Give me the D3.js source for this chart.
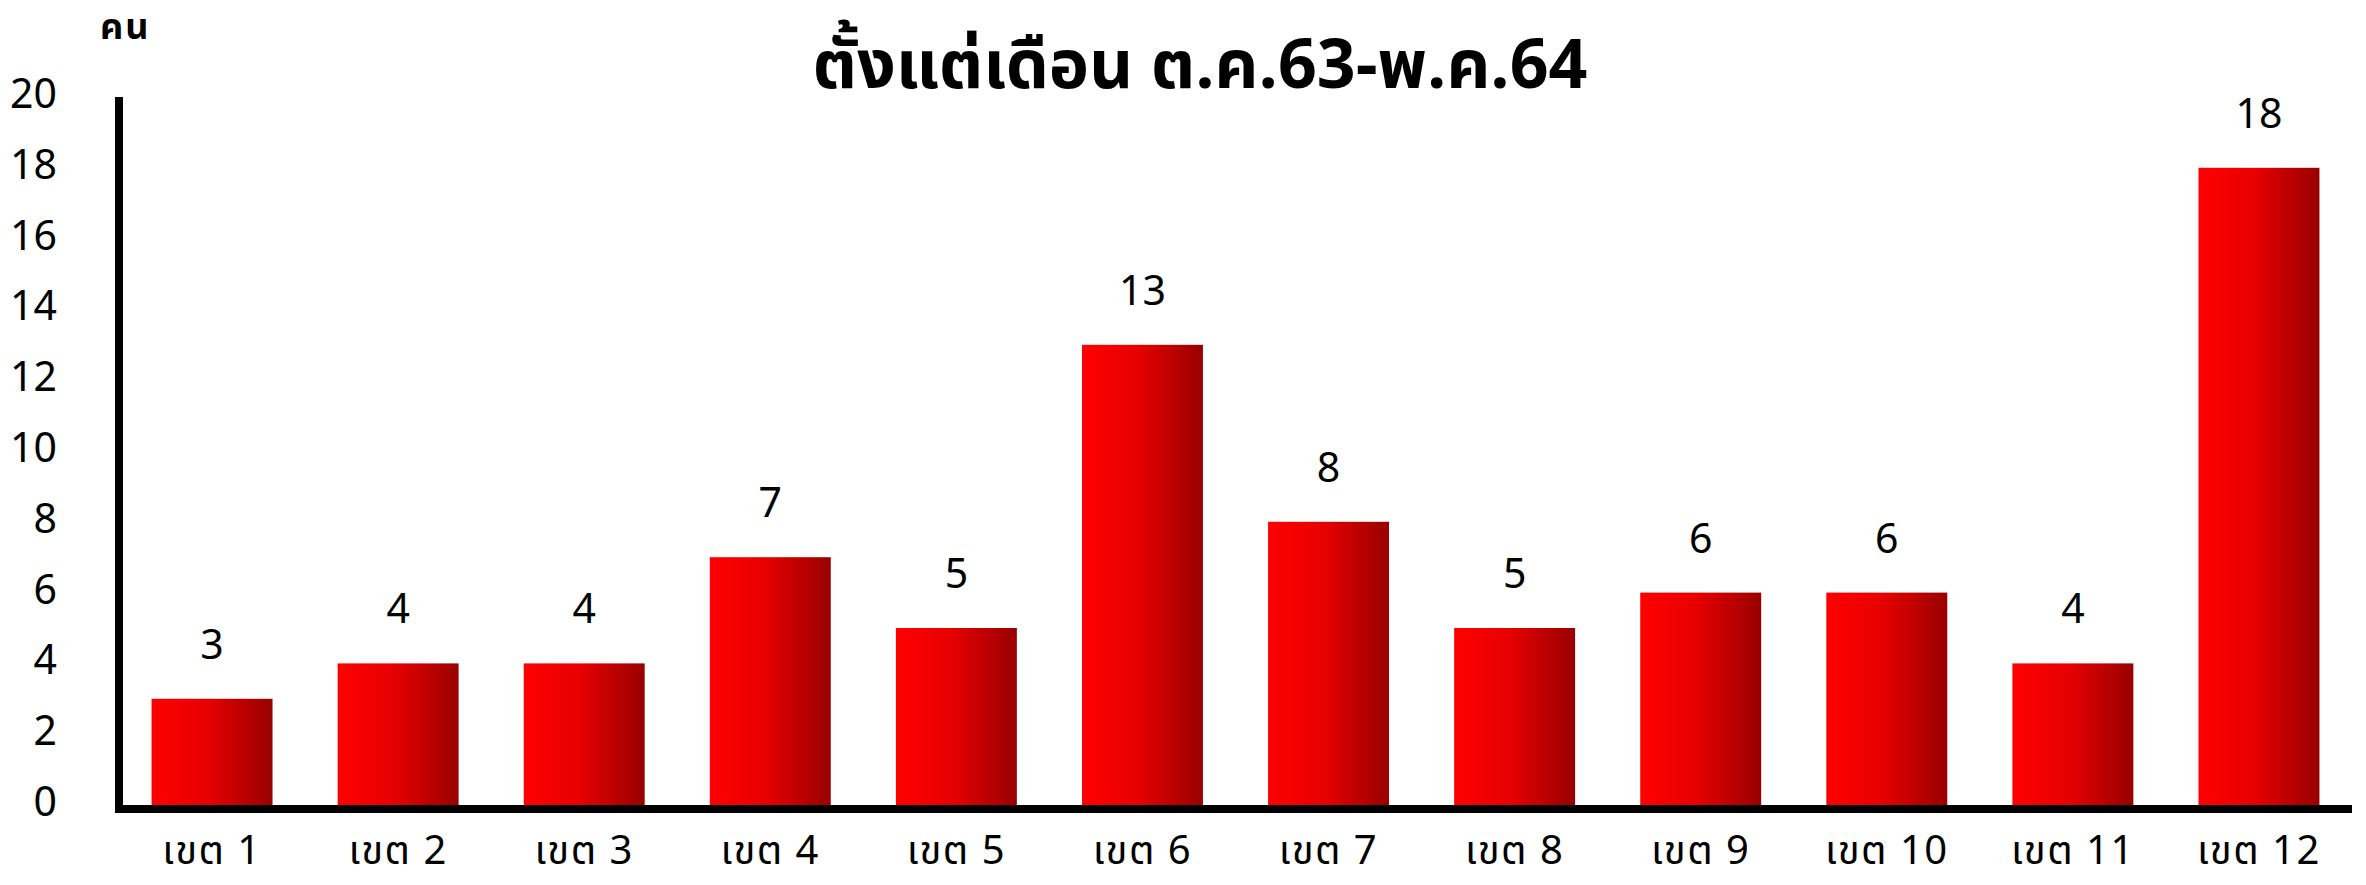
<!DOCTYPE html>
<html>
<head>
<meta charset="utf-8">
<script src="https://cdn.jsdelivr.net/npm/d3@7"></script>
<style>
  html, body { margin: 0; padding: 0; background: #fff; }
  svg { display: block; }
  text { font-family: "Noto Sans Thai", "Loma", "Garuda", "Noto Sans", "DejaVu Sans", sans-serif; fill: #000; }
</style>
</head>
<body>
<script>
// data
var categories = ["เขต 1","เขต 2","เขต 3","เขต 4","เขต 5","เขต 6","เขต 7","เขต 8","เขต 9","เขต 10","เขต 11","เขต 12"];
var values = [3, 4, 4, 7, 5, 13, 8, 5, 6, 6, 4, 18];
var yTicks = [0, 2, 4, 6, 8, 10, 12, 14, 16, 18, 20];
var title = "ตั้งแต่เดือน ต.ค.63-พ.ค.64";
var yUnit = "คน";

var width = 2366, height = 885;

var svg = d3.select("body").append("svg")
    .attr("width", width)
    .attr("height", height);

// gradient for the bars, bright red on the left to dark red on the right
var defs = svg.append("defs");
var gradient = defs.append("linearGradient")
    .attr("id", "barGradient")
    .attr("x1", "0%").attr("x2", "100%")
    .attr("y1", "0%").attr("y2", "0%");
gradient.append("stop").attr("offset", "0%").attr("stop-color", "#ff0000");
gradient.append("stop").attr("offset", "45%").attr("stop-color", "#e80000");
gradient.append("stop").attr("offset", "100%").attr("stop-color", "#990000");

var x = d3.scaleBand()
    .domain(categories)
    .range([119, 2352])
    .paddingInner(0.35)
    .paddingOuter(0.175);

var y = d3.scaleLinear()
    .domain([0, 20])
    .range([805, 97]);

// title
svg.append("text")
    .attr("x", 1200)
    .attr("y", 88)
    .attr("text-anchor", "middle")
    .style("font-size", "68px")
    .style("font-weight", "bold")
    .text(title);

// unit label
svg.append("text")
    .attr("x", 100)
    .attr("y", 39)
    .style("font-size", "36px")
    .style("letter-spacing", "2px")
    .style("font-weight", "bold")
    .text(yUnit);

// y tick labels
svg.append("g").selectAll("text")
    .data(yTicks)
    .enter().append("text")
    .attr("x", 57)
    .attr("y", function(d){ return y(d) - 2; })
    .attr("text-anchor", "end")
    .attr("dominant-baseline", "central")
    .style("font-size", "41px")
    .text(function(d){ return d; });

// bars
svg.append("g").selectAll("rect")
    .data(values)
    .enter().append("rect")
    .attr("x", function(d,i){ return x(categories[i]); })
    .attr("y", function(d){ return y(d); })
    .attr("width", x.bandwidth())
    .attr("height", function(d){ return y(0) - y(d); })
    .attr("fill", "url(#barGradient)");

// value labels above the bars
svg.append("g").selectAll("text")
    .data(values)
    .enter().append("text")
    .attr("x", function(d,i){ return x(categories[i]) + x.bandwidth()/2; })
    .attr("y", function(d){ return y(d) - 40; })
    .attr("text-anchor", "middle")
    .style("font-size", "41px")
    .text(function(d){ return d; });

// category labels
svg.append("g").selectAll("text")
    .data(categories)
    .enter().append("text")
    .attr("x", function(d){ return x(d) + x.bandwidth()/2; })
    .attr("y", 864)
    .attr("text-anchor", "middle")
    .style("font-size", "40px")
    .style("letter-spacing", "1.5px")
    .text(function(d){ return d; });

// axis lines
svg.append("line")
    .attr("x1", 119).attr("x2", 119)
    .attr("y1", y(20)).attr("y2", 813)
    .attr("stroke", "#000").attr("stroke-width", 8);
svg.append("line")
    .attr("x1", 115).attr("x2", 2352)
    .attr("y1", 809).attr("y2", 809)
    .attr("stroke", "#000").attr("stroke-width", 8);
</script>
</body>
</html>
